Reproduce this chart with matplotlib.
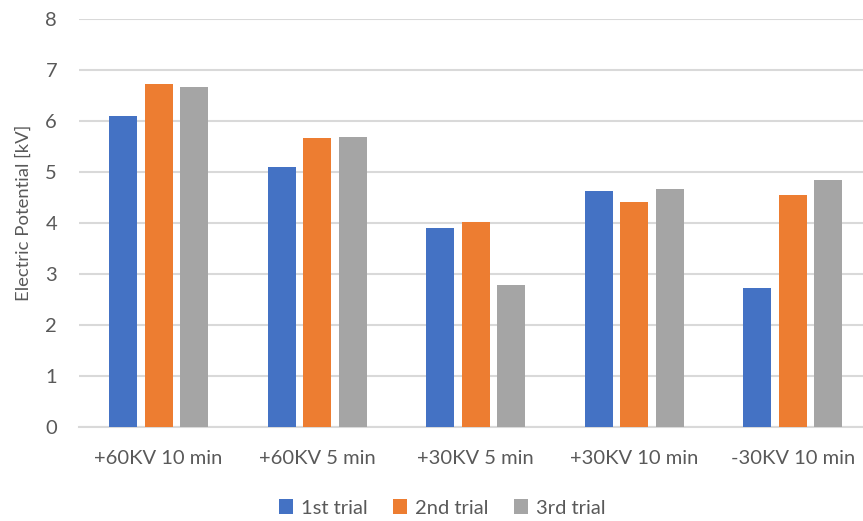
import matplotlib
matplotlib.use("Agg")
import matplotlib.pyplot as plt
import numpy as np

categories = ["+60KV 10 min", "+60KV 5 min", "+30KV 5 min", "+30KV 10 min", "-30KV 10 min"]
trial_1 = [6.10, 5.09, 3.90, 4.63, 2.72]
trial_2 = [6.73, 5.67, 4.01, 4.41, 4.54]
trial_3 = [6.67, 5.69, 2.79, 4.66, 4.84]
series_names = ["1st trial", "2nd trial", "3rd trial"]
series_colors = ["#4472C4", "#ED7D31", "#A5A5A5"]
y_ticks = [0, 1, 2, 3, 4, 5, 6, 7, 8]

plt.rcParams["font.family"] = ["Lato", "DejaVu Sans"]
text_color = "#595959"
grid_color = "#D9D9D9"

W, H = 863, 521
fig = plt.figure(figsize=(W / 100, H / 100), dpi=100)
left, right, top, bottom = 79.3, 872.0, 19.0, 426.7
ax = fig.add_axes([left / W, 1 - bottom / H, (right - left) / W, (bottom - top) / H])

x = np.arange(len(categories))
bar_w = 0.177
offset = 0.224
for i, (vals, name, col) in enumerate(zip([trial_1, trial_2, trial_3], series_names, series_colors)):
    ax.bar(x + (i - 1) * offset, vals, width=bar_w, color=col, label=name, zorder=3)

ax.set_xlim(-0.5, len(categories) - 0.5)
ax.set_ylim(0, 8)
ax.set_yticks(y_ticks)
ax.set_xticks(x)
ax.set_xticklabels(categories)
ax.yaxis.grid(True, color=grid_color, linewidth=1.5, zorder=0)
for s in ["top", "right", "left"]:
    ax.spines[s].set_visible(False)
ax.spines["bottom"].set_color(grid_color)
ax.spines["bottom"].set_linewidth(1.5)
ax.tick_params(axis="both", length=0, labelsize=14.5, colors=text_color)
ax.tick_params(axis="y", pad=16)
ax.tick_params(axis="x", pad=17)
ax.set_ylabel("Electric Potential [kV]", fontsize=13.3, color=text_color)
ax.yaxis.set_label_coords((32 - left) / (right - left), 0.524)

ax.legend(loc="center", bbox_to_anchor=(442 / W, 1 - 508 / H), bbox_transform=fig.transFigure,
          ncol=3, frameon=False, fontsize=14.5, handlelength=0.7, handleheight=0.7,
          handletextpad=0.4, columnspacing=1.25, labelcolor=text_color)

fig.savefig("out.png", dpi=100)
